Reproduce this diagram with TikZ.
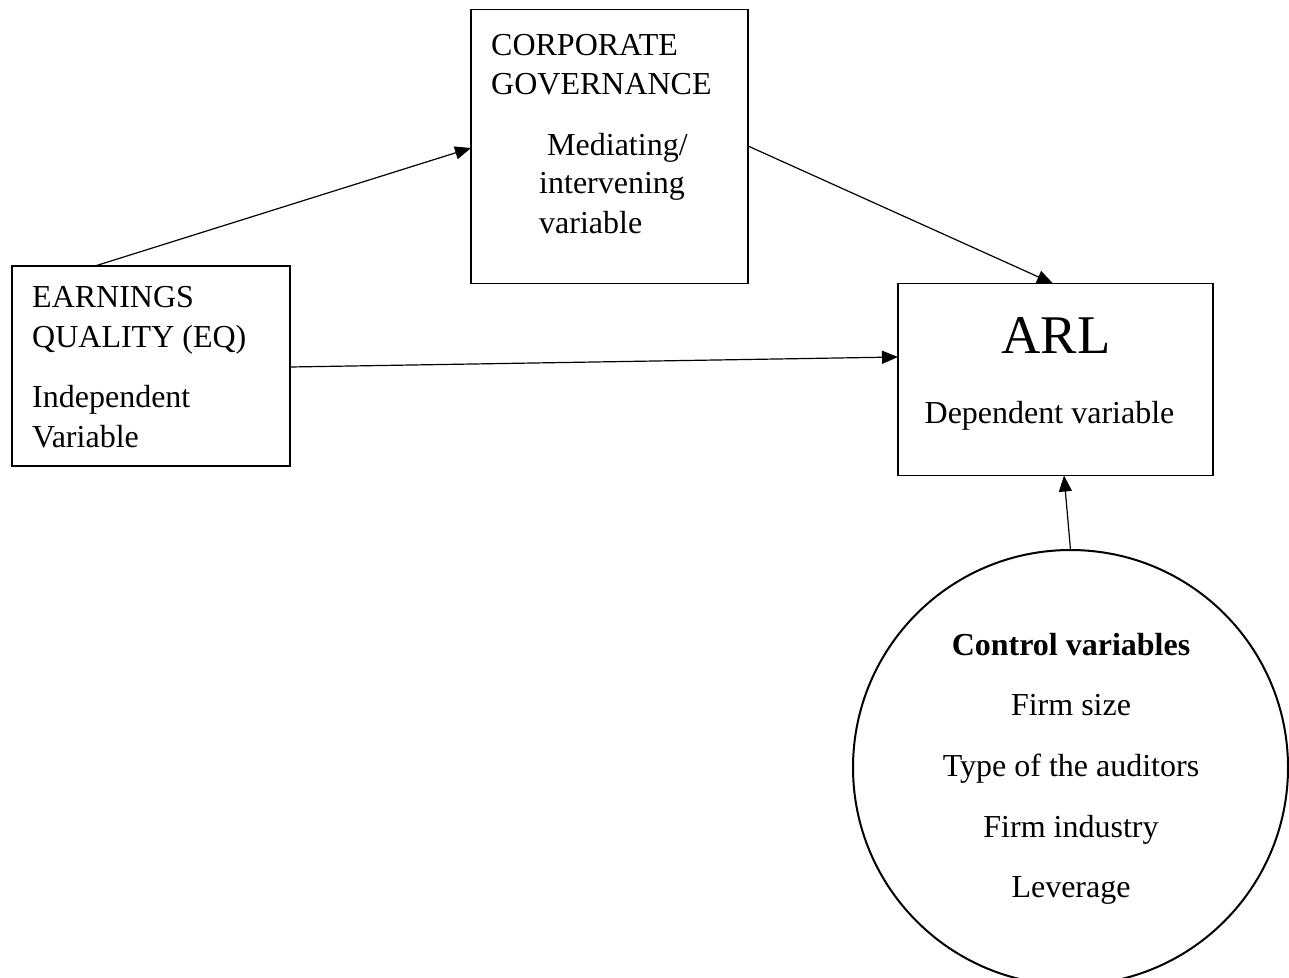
\documentclass[tikz,border=0pt]{standalone}
\usepackage{fontspec}
\setmainfont{Liberation Serif}
\usetikzlibrary{arrows.meta}
\begin{document}
\begin{tikzpicture}[x=1pt,y=-1pt,
  box/.style={draw,line width=1.2pt,inner sep=0pt,outer sep=0pt,anchor=north west},
  txt/.style={inner sep=0pt,anchor=base west,font=\fontsize{32}{40}\selectfont},
  ctxt/.style={inner sep=0pt,anchor=base,font=\fontsize{32}{40}\selectfont},
  arr/.style={-{Triangle[length=16pt,width=13pt]},line width=1.2pt}]
\useasboundingbox (0,0) rectangle (1289,977);
% boxes
\node[box,line width=2.2pt,minimum width=278pt,minimum height=200pt] (eq) at (12,266) {};
\node[box,minimum width=277pt,minimum height=274pt] (cg) at (471,9.5) {};
\node[box,minimum width=315pt,minimum height=192pt] (arl) at (898,283.5) {};
\begin{scope}
  \clip (0,0) rectangle (1289,977);
  \node[draw,circle,line width=2pt,inner sep=0pt,outer sep=0pt,minimum size=435pt] (cv) at (1070.5,767.5) {};
\end{scope}
% texts
\node[txt] (t1) at (32,307) {EARNINGS};
\node[txt] (t2) at (32,347) {QUALITY (EQ)};
\node[txt] (t3) at (32,407) {Independent};
\node[txt] (t4) at (32,447) {Variable};
\node[txt] (t5) at (491,55) {CORPORATE};
\node[txt] (t6) at (491,94) {GOVERNANCE};
\node[txt] (t7) at (547,155) {Mediating/};
\node[txt] (t8) at (539,193) {intervening};
\node[txt] (t9) at (539,233) {variable};
\node[ctxt,font=\fontsize{54.5}{60}\selectfont] (t10) at (1056,353) {ARL};
\node[ctxt] (t11) at (1049.5,423) {Dependent variable};
\node[ctxt,font=\fontsize{32}{40}\selectfont\bfseries] (t12) at (1071,655) {Control variables};
\node[ctxt] (t13) at (1071,715) {Firm size};
\node[ctxt] (t14) at (1071,776) {Type of the auditors};
\node[ctxt] (t15) at (1071,837) {Firm industry};
\node[ctxt] (t16) at (1071,897) {Leverage};
% arrows
\draw[arr] (95,0 |- eq.north) -- (cg.west |- 0,148);
\draw[arr] (cg.east |- 0,146) -- (1053,0 |- arl.north);
\draw[arr] (eq.east |- 0,367) -- (arl.west |- 0,357);
\draw[arr] (cv.north) -- (1064,0 |- arl.south);
\end{tikzpicture}
\end{document}
